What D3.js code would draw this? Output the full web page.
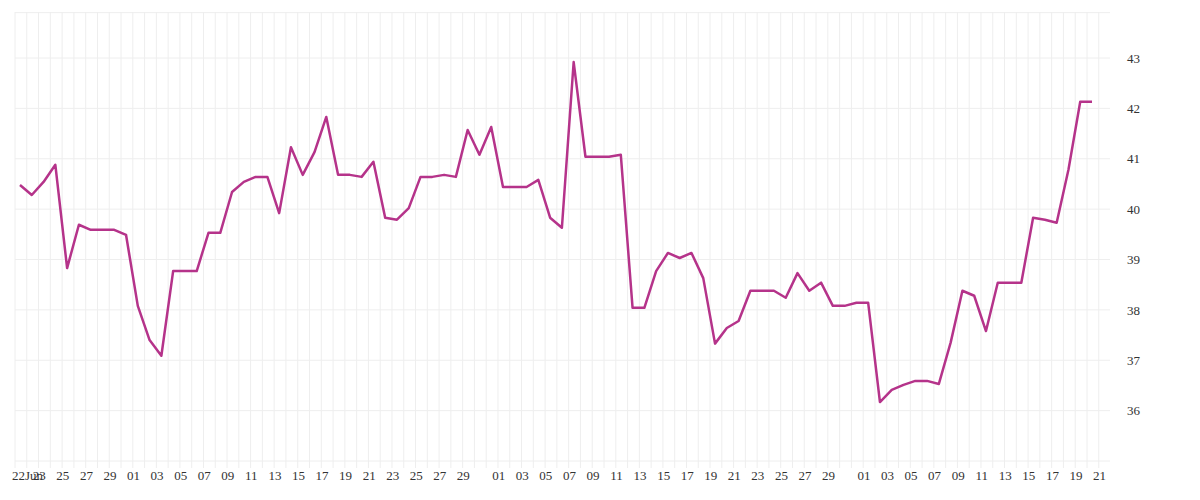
<!DOCTYPE html>
<html><head><meta charset="utf-8">
<script src="https://cdn.jsdelivr.net/npm/d3@7"></script>
<style>body{margin:0;background:#fff}svg{display:block}text{font-family:"Liberation Serif",serif;font-size:13px;fill:#333}</style>
</head><body><svg id="c" width="1200" height="500"></svg>
<script>
const startDate = "2023-06-22";
const values = [40.48,40.28,40.54,40.88,38.83,39.69,39.59,39.59,39.59,39.49,38.08,37.40,37.09,38.77,38.77,38.77,39.53,39.53,40.34,40.54,40.64,40.64,39.92,41.23,40.68,41.13,41.83,40.68,40.68,40.64,40.94,39.83,39.79,40.02,40.64,40.64,40.68,40.64,41.57,41.08,41.63,40.44,40.44,40.44,40.58,39.83,39.63,42.92,41.04,41.04,41.04,41.08,38.04,38.04,38.77,39.13,39.03,39.13,38.63,37.33,37.64,37.78,38.38,38.38,38.38,38.24,38.73,38.38,38.54,38.08,38.08,38.14,38.14,36.17,36.41,36.51,36.59,36.59,36.53,37.35,38.38,38.28,37.58,38.54,38.54,38.54,39.83,39.79,39.73,40.78,42.13,42.13];
const yTicks = [36,37,38,39,40,41,42,43];

(function(){
const svg = d3.select("#c");
const t0 = new Date(startDate+"T00:00:00");
const dates = values.map((v,i)=>d3.timeDay.offset(t0,i));
const data = values.map((v,i)=>({d:dates[i],v}));
const x = d3.scaleTime().domain([dates[0],dates[dates.length-1]]).range([20,1092]);
const y = d3.scaleLinear().domain([35,43]).range([461,58]);
const pTop=12,pBottom=468,pLeft=15,pRight=1110;

const gridDays = d3.timeDay.range(t0, d3.timeDay.offset(t0,93));
svg.append("g").selectAll("line").data(gridDays).join("line")
 .attr("x1",d=>x(d)-5).attr("x2",d=>x(d)-5).attr("y1",pTop).attr("y2",pBottom)
 .attr("stroke","#eee").attr("stroke-width",1);
const hLines=[43.9,...yTicks,35];
svg.append("g").selectAll("line").data(hLines).join("line")
 .attr("x1",pLeft).attr("x2",pRight).attr("y1",d=>y(d)).attr("y2",d=>y(d))
 .attr("stroke","#eee").attr("stroke-width",1);

const ya = svg.append("g").attr("transform","translate(1120,0)")
 .call(d3.axisRight(y).tickValues(yTicks).tickSize(0).tickPadding(7).tickFormat(d3.format("d")));
ya.select(".domain").remove();
ya.selectAll("text").style("font-family","Liberation Serif").style("font-size","13px").attr("fill","#333");

const xTicks = dates.filter(d=>d.getTime()===t0.getTime() || (d.getDate()%2===1 && d.getDate()!==31));
const xa = svg.append("g").attr("transform","translate(7,"+(pBottom-7)+")")
 .call(d3.axisBottom(x).tickValues(xTicks).tickSize(0).tickPadding(10)
   .tickFormat(d=>d.getTime()===t0.getTime()?"22Jun":d3.timeFormat("%d")(d)));
xa.select(".domain").remove();
xa.selectAll("text").style("font-family","Liberation Serif").style("font-size","13px").attr("fill","#333");

svg.append("path").datum(data)
 .attr("d",d3.line().x(d=>x(d.d)).y(d=>y(d.v)))
 .attr("fill","none").attr("stroke","#b5338a").attr("stroke-width",2.5).attr("stroke-linejoin","round");
})();
</script></body></html>
